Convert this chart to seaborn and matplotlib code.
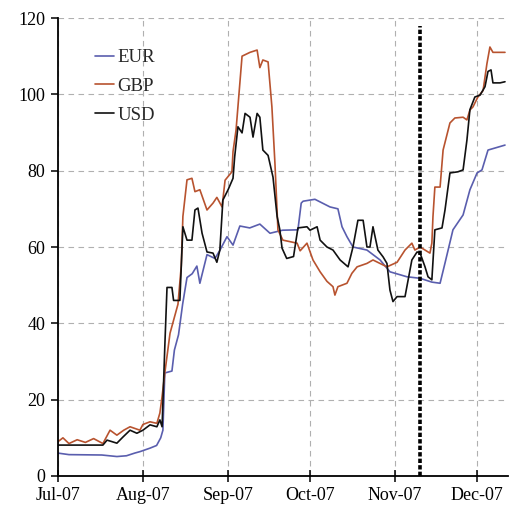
import matplotlib
matplotlib.use("Agg")
import matplotlib.pyplot as plt
import matplotlib.dates as mdates
import numpy as np
import pandas as pd
import seaborn as sns

# Days elapsed since 1 July 2007 and the spread level on each series
start = pd.Timestamp("2007-07-01")

eur_day = [0, 4, 16, 21.5, 25, 28, 30, 33.6, 36, 37.5, 38.3, 39, 41.6, 42.5, 44,
           45.5, 47.1, 49, 50.7, 51.8, 54.4, 57.3, 59, 61.7, 63.9, 66.4, 70, 73.7,
           77.4, 82, 87.6, 88.8, 89.5, 93.8, 99.3, 102.2, 103.7, 105.5, 107.7,
           112.8, 117.6, 121.2, 127.4, 132.2, 136.5, 139.5, 141.3, 144.2, 147.9,
           150.4, 153, 154.8, 157, 163.2]
eur_val = [6.0, 5.6, 5.5, 5.1, 5.3, 6.0, 6.4, 7.3, 8.0, 10, 12, 27, 27.5, 33, 37,
           45, 52, 53, 55, 50.5, 58, 57, 59, 62.7, 60.5, 65.5, 65, 66,
           63.6, 64.4, 64.5, 71.5, 72, 72.5, 70.5, 70, 65.3, 62.7, 60,
           59.2, 56.6, 53.5, 52.2, 51.8, 50.8, 50.5, 55.8, 64.5, 68.4,
           75, 79.4, 80.2, 85.4, 86.7]

gbp_day = [0, 1.8, 4, 7, 10, 13, 16.4, 19, 21.5, 24, 26.3, 29.9, 31, 33.6, 36.1,
           37.2, 38, 39, 40.9, 43.8, 45, 45.6, 47.1, 48.9, 50, 51.8, 54.4, 56.6,
           58, 59.9, 61, 63.5, 63.9, 65, 67.2, 70.1, 72.7, 73.7, 74.8, 76.7, 78.1,
           79.2, 80.3, 82.1, 87.3, 88.4, 90.9, 93.1, 95.7, 98.2, 100.4, 101.1,
           102.2, 105.5, 107.3, 109.2, 112.8, 115, 120.1, 123.8, 126.7, 129.2,
           130.3, 132.2, 134, 135.8, 136.5, 136.9, 137.6, 139.5, 140.6, 143.1,
           144.9, 147.9, 149.3, 150.4, 151.5, 153.3, 155.2, 156.6, 157.7, 158.8,
           163.2]
gbp_val = [9, 10, 8.5, 9.5, 8.8, 9.8, 8.5, 12, 10.7, 12, 12.9, 12, 13.5, 14.2, 13.8,
           16.5, 20.8, 27, 37.4, 45, 55, 68, 77.6, 78, 74.5, 75, 69.7, 71.5,
           73, 70.5, 77.5, 79.7, 85, 90.6, 110, 111, 111.6, 107, 109, 108.5, 96.7,
           82, 64.5, 61.8, 61, 59, 61, 56.6, 53.5, 51, 49.6, 47.4,
           49.6, 50.5, 53.1, 54.8, 55.7, 56.6, 54.8, 56, 59.2, 61,
           59.2, 60, 59.2, 58.4, 61, 67.9, 75.7, 75.7, 85.4, 92.5,
           93.8, 94, 93.3, 95.9, 96.7, 99.3, 101, 108, 112.4, 111,
           111]

usd_day = [0, 16.4, 17.9, 21.5, 23.7, 26.3, 28.8, 31, 33.6, 36.1, 37.2, 38, 39,
           39.8, 41.6, 42.2, 44.5, 45.6, 47.1, 48.9, 50, 51.1, 52.6, 54.4, 56.6,
           58, 59.1, 60.2, 62.1, 63.9, 64.5, 65.7, 67.2, 68.3, 70.1, 71.2, 72.7,
           73.7, 74.8, 76.7, 78.5, 80, 81, 81.8, 83.5, 86, 87.6, 90.9, 92, 94.6,
           95.7, 98.2, 100.4, 103, 105.9, 107.7, 109.5, 111.4, 112.8, 113.9, 115,
           116.8, 118.7, 120.1, 121.2, 122.3, 123.8, 126.7, 129.2, 131.1, 132.2,
           134, 135.1, 136.5, 137.6, 140.2, 141.3, 143.1, 146, 147.9, 149.3,
           150.4, 152.2, 154.1, 155.9, 157, 158.1, 158.8, 161.4, 163.2]
usd_val = [8.1, 8.1, 9.4, 8.6, 10.2, 12, 11.2, 12, 13.4, 12.9, 14.7, 12.9, 34,
           49.4, 49.4, 46, 46, 65.3, 61.8, 61.8, 69.7, 70.2, 63.6, 58.7, 58.4,
           56, 59.2, 72.3, 75, 78, 83.6, 91.5, 89.9, 95, 94, 88.8, 95,
           94, 85.4, 84, 78.3, 68, 64.5, 59.7, 57, 57.5, 65, 65.3, 64.4, 65.3,
           61.8, 60, 59.2, 56.6, 54.8, 60, 67, 67, 60, 60, 65.3,
           59.2, 57.4, 55.7, 48.7, 45.7, 47, 47, 56.6, 58.7, 58.4,
           54.8, 52.2, 51.4, 64.5, 65, 69.7, 79.4, 79.7, 80.2, 88,
           96, 99.3, 99.8, 102, 106, 106.4, 103, 103, 103.3]

series_names = ["EUR", "GBP", "USD"]
series_colors = {"EUR": "#5a5eae", "GBP": "#b8532f", "USD": "#111111"}
event_date = pd.Timestamp("2007-11-10")
event_top = 118
month_ticks = pd.date_range("2007-07-01", "2007-12-01", freq="MS")

frames = []
for name, days, vals in [("EUR", eur_day, eur_val),
                         ("GBP", gbp_day, gbp_val),
                         ("USD", usd_day, usd_val)]:
    frames.append(pd.DataFrame({
        "date": start + pd.to_timedelta(np.asarray(days, dtype=float), unit="D"),
        "spread": vals,
        "currency": name,
    }))
data = pd.concat(frames, ignore_index=True)

sns.set_theme(style="white")
plt.rcParams["font.family"] = ["Liberation Serif", "DejaVu Serif"]

fig = plt.figure(figsize=(5.10, 5.13), dpi=100)
ax = fig.add_axes([58 / 510, 37 / 513, 450 / 510, 458 / 513])

sns.lineplot(data=data, x="date", y="spread", hue="currency",
             hue_order=series_names, palette=series_colors,
             estimator=None, sort=True, linewidth=1.2, ax=ax)

ax.set_xlim(start, start + pd.Timedelta(days=164.3))
ax.set_ylim(0, 120)
ax.set_yticks(range(0, 121, 20))
ax.set_xticks(month_ticks)
ax.xaxis.set_major_formatter(mdates.DateFormatter("%b-%y"))
ax.set_xlabel("")
ax.set_ylabel("")

ax.grid(True, color="#b0b0b0", linestyle=(0, (5, 4)), linewidth=0.8)
ax.set_axisbelow(True)

for side in ["top", "right"]:
    ax.spines[side].set_visible(False)
for side in ["left", "bottom"]:
    ax.spines[side].set_color("black")
    ax.spines[side].set_linewidth(1.3)

ax.tick_params(axis="y", direction="out", length=5, width=1.1, colors="black",
               labelsize=13, pad=4, left=True)
ax.tick_params(axis="x", direction="inout", length=8, width=1.1, colors="black",
               labelsize=13, pad=4, bottom=True)

# Event marker
ax.plot([event_date, event_date], [0, event_top], color="black",
        linewidth=2.6, linestyle=(0, (1.2, 0.6)), zorder=3)

handles, labels = ax.get_legend_handles_labels()
ax.legend(handles, labels, loc="upper left",
          bbox_to_anchor=((95 - 58) / 450, (476 - 49) / 458),
          frameon=False, fontsize=13.5, handlelength=1.0, handletextpad=0.2,
          labelspacing=0.62, borderpad=0, borderaxespad=0)

fig.savefig("out.png", dpi=100)
